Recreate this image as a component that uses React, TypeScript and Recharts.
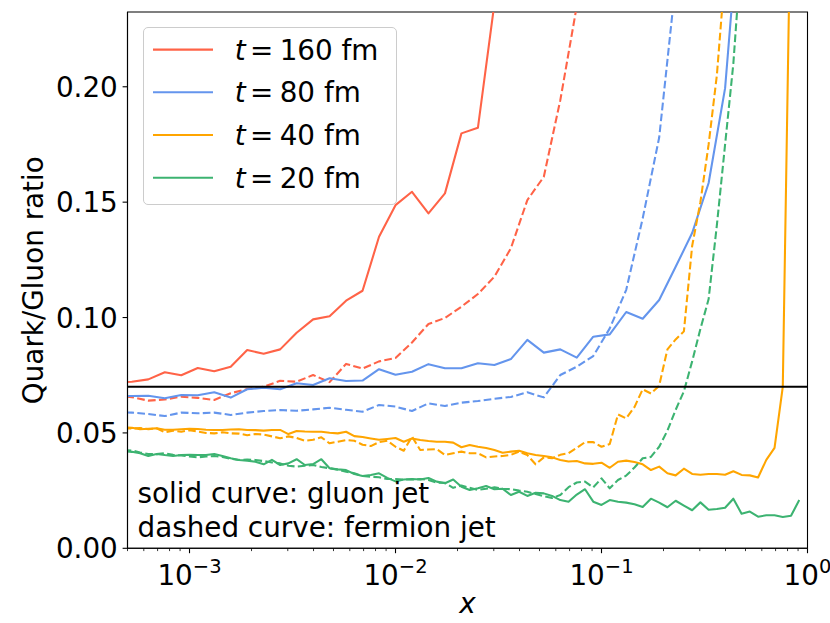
import { LineChart, Line, XAxis, YAxis, Legend, ReferenceLine, ReferenceArea, Label } from 'recharts';

// log10(x) of the bins. The t = 160 and 80 fm runs are on every other bin.
const coarseExp = [
  -3.36, -3.28, -3.2, -3.12, -3.04, -2.96, -2.88, -2.8, -2.72, -2.64,
  -2.56, -2.48, -2.4, -2.32, -2.24, -2.16, -2.08, -2.0, -1.92, -1.84,
  -1.76, -1.68, -1.6, -1.52, -1.44, -1.36, -1.28, -1.2, -1.12, -1.04,
  -0.96, -0.88, -0.8, -0.72, -0.64, -0.56, -0.48, -0.4, -0.32,
];
const fineExp = [
  -3.32, -3.28, -3.24, -3.2, -3.16, -3.12, -3.08, -3.04, -3.0, -2.96,
  -2.92, -2.88, -2.84, -2.8, -2.76, -2.72, -2.68, -2.64, -2.6, -2.56,
  -2.52, -2.48, -2.44, -2.4, -2.36, -2.32, -2.28, -2.24, -2.2, -2.16,
  -2.12, -2.08, -2.04, -2.0, -1.96, -1.92, -1.88, -1.84, -1.8, -1.76,
  -1.72, -1.68, -1.64, -1.6, -1.56, -1.52, -1.48, -1.44, -1.4, -1.36,
  -1.32, -1.28, -1.24, -1.2, -1.16, -1.12, -1.08, -1.04, -1.0, -0.96,
  -0.92, -0.88, -0.84, -0.8, -0.76, -0.72, -0.68, -0.64, -0.6, -0.56,
  -0.52, -0.48, -0.44, -0.4, -0.36, -0.32, -0.28, -0.24, -0.2, -0.16,
  -0.12, -0.08, -0.04,
];

// solid = gluon jet, dashed = fermion jet
const t160Gluon = [
  0.0718, 0.0722, 0.0732, 0.0763, 0.075, 0.0781, 0.0767, 0.0787, 0.0859, 0.0843,
  0.0862, 0.0934, 0.0992, 0.1006, 0.1073, 0.1116, 0.135, 0.1487, 0.1545, 0.1451,
  0.1538, 0.1798, 0.1822, 0.236, 0.3,
];
const t160Fermion = [
  0.066, 0.0655, 0.064, 0.0645, 0.0657, 0.0652, 0.0643, 0.0672, 0.069, 0.07,
  0.0726, 0.0722, 0.0751, 0.072, 0.0799, 0.0779, 0.081, 0.0825, 0.0892, 0.0972,
  0.0998, 0.1047, 0.1102, 0.1177, 0.13, 0.1509, 0.161, 0.1942, 0.235, 0.3,
];
const t80Gluon = [
  0.066, 0.066, 0.0661, 0.065, 0.0664, 0.0663, 0.0676, 0.0653, 0.0689, 0.0696,
  0.0689, 0.0715, 0.0708, 0.0737, 0.0725, 0.0727, 0.0776, 0.0752, 0.0765, 0.0798,
  0.078, 0.078, 0.0802, 0.0794, 0.082, 0.0903, 0.0848, 0.0862, 0.0826, 0.0917,
  0.0927, 0.1024, 0.0995, 0.1076, 0.122, 0.1366, 0.1583, 0.1994, 0.287,
];
const t80Fermion = [
  0.059, 0.0588, 0.0582, 0.0573, 0.0588, 0.0585, 0.0588, 0.0578, 0.0588, 0.0595,
  0.0599, 0.0596, 0.0602, 0.0609, 0.06, 0.0592, 0.0621, 0.0614, 0.0595, 0.0628,
  0.0617, 0.0631, 0.0638, 0.0648, 0.0656, 0.0676, 0.0654, 0.0751, 0.0787, 0.0833,
  0.0953, 0.112, 0.143, 0.178, 0.245, 0.3,
];
const t40Gluon = [
  0.0525, 0.0522, 0.0516, 0.0518, 0.052, 0.0514, 0.0514, 0.0516, 0.0518, 0.0517,
  0.0514, 0.0513, 0.0513, 0.0515, 0.0516, 0.0513, 0.0512, 0.051, 0.0513, 0.0513,
  0.0495, 0.0508, 0.0506, 0.0505, 0.0505, 0.0501, 0.0498, 0.0505, 0.0486, 0.0482,
  0.0476, 0.047, 0.0474, 0.0478, 0.0462, 0.0476, 0.0469, 0.0465, 0.0462, 0.0462,
  0.0458, 0.0438, 0.0448, 0.044, 0.0435, 0.0426, 0.0414, 0.0419, 0.0423, 0.0412,
  0.0404, 0.04, 0.0394, 0.0383, 0.0376, 0.0378, 0.0368, 0.0366, 0.0371, 0.0349,
  0.0375, 0.038, 0.0374, 0.0364, 0.0339, 0.0354, 0.0325, 0.0316, 0.0345, 0.0322,
  0.0319, 0.0322, 0.0322, 0.0319, 0.0334, 0.0318, 0.0316, 0.0307, 0.0383, 0.0435,
  0.07, 0.29,
];
const t40Fermion = [
  0.052, 0.0519, 0.0521, 0.0516, 0.052, 0.0503, 0.051, 0.0505, 0.0512, 0.0506,
  0.05, 0.0498, 0.0503, 0.0498, 0.0497, 0.049, 0.0495, 0.0493, 0.0485, 0.0477,
  0.0485, 0.0478, 0.0466, 0.047, 0.0481, 0.0455, 0.0462, 0.0469, 0.0466, 0.0449,
  0.0443, 0.046, 0.0466, 0.044, 0.0423, 0.0484, 0.0426, 0.0428, 0.043, 0.0404,
  0.0412, 0.0419, 0.0412, 0.0412, 0.0394, 0.0398, 0.04, 0.0405, 0.0419, 0.0404,
  0.0364, 0.0394, 0.039, 0.0405, 0.0412, 0.0435, 0.046, 0.046, 0.044, 0.0452,
  0.058, 0.0563, 0.0612, 0.0689, 0.0671, 0.0705, 0.0862, 0.0905, 0.094, 0.131,
  0.15, 0.175, 0.205, 0.25,
];
const t20Gluon = [
  0.042, 0.0418, 0.0412, 0.04, 0.0409, 0.0404, 0.04, 0.0404, 0.0405, 0.0404,
  0.0404, 0.0409, 0.04, 0.039, 0.0383, 0.038, 0.0375, 0.0364, 0.0383, 0.0361,
  0.0368, 0.0386, 0.0361, 0.0365, 0.0386, 0.0347, 0.0342, 0.0339, 0.0322, 0.0313,
  0.0318, 0.0325, 0.0305, 0.029, 0.0298, 0.03, 0.0298, 0.0305, 0.0289, 0.0282,
  0.0298, 0.0267, 0.0253, 0.026, 0.027, 0.0256, 0.0258, 0.0231, 0.0245, 0.0227,
  0.0241, 0.0238, 0.0227, 0.0209, 0.0202, 0.0233, 0.0256, 0.0202, 0.0188, 0.0209,
  0.0202, 0.0198, 0.0191, 0.0179, 0.0215, 0.0198, 0.0178, 0.0206, 0.0185, 0.0165,
  0.0199, 0.0167, 0.017, 0.0176, 0.0215, 0.015, 0.0159, 0.0137, 0.0143, 0.0143,
  0.0136, 0.0141, 0.0209,
];
const t20Fermion = [
  0.0426, 0.0424, 0.0415, 0.0409, 0.0408, 0.0412, 0.0405, 0.0402, 0.0398, 0.0394,
  0.0398, 0.04, 0.0396, 0.0388, 0.0383, 0.0385, 0.0383, 0.0378, 0.0372, 0.0368,
  0.0358, 0.0354, 0.0358, 0.0361, 0.0352, 0.0347, 0.034, 0.0332, 0.0325, 0.0313,
  0.031, 0.0308, 0.03, 0.03, 0.0298, 0.0298, 0.03, 0.0296, 0.0285, 0.0284,
  0.0262, 0.0272, 0.0262, 0.0253, 0.0258, 0.0264, 0.0258, 0.0256, 0.025, 0.0245,
  0.0235, 0.0226, 0.0218, 0.0231, 0.0265, 0.0285, 0.0289, 0.0264, 0.0303, 0.026,
  0.0296, 0.0315, 0.035, 0.039, 0.0396, 0.044, 0.051, 0.06, 0.068, 0.081,
  0.095, 0.108, 0.14, 0.175, 0.21, 0.26,
];

const legendTimes = ['160', '80', '40', '20'];
const colors = ['#ff6347', '#6495ed', '#ffa500', '#3cb371'];

const yTicks = [0, 0.05, 0.1, 0.15, 0.2];
const yTickLabels = ['0.00', '0.05', '0.10', '0.15', '0.20'];
const xMajorTicks = [1e-3, 1e-2, 1e-1, 1];
const xMajorExponents = ['\u22123', '\u22122', '\u22121', '0'];
const xMinorTicks = [
  5e-4, 6e-4, 7e-4, 8e-4, 9e-4,
  2e-3, 3e-3, 4e-3, 5e-3, 6e-3, 7e-3, 8e-3, 9e-3,
  2e-2, 3e-2, 4e-2, 5e-2, 6e-2, 7e-2, 8e-2, 9e-2,
  2e-1, 3e-1, 4e-1, 5e-1, 6e-1, 7e-1, 8e-1, 9e-1,
];

const FONT = 'DejaVu Sans';
const FS = 27.8;

const toPoints = (exp: number[], vals: number[]) => vals.map((y, i) => ({ x: 10 ** exp[i], y }));

const series = [
  { id: 'g160', data: toPoints(coarseExp, t160Gluon), color: colors[0], dashed: false },
  { id: 'f160', data: toPoints(coarseExp, t160Fermion), color: colors[0], dashed: true },
  { id: 'g80', data: toPoints(coarseExp, t80Gluon), color: colors[1], dashed: false },
  { id: 'f80', data: toPoints(coarseExp, t80Fermion), color: colors[1], dashed: true },
  { id: 'g40', data: toPoints(fineExp, t40Gluon), color: colors[2], dashed: false },
  { id: 'f40', data: toPoints(fineExp, t40Fermion), color: colors[2], dashed: true },
  { id: 'g20', data: toPoints(fineExp, t20Gluon), color: colors[3], dashed: false },
  { id: 'f20', data: toPoints(fineExp, t20Fermion), color: colors[3], dashed: true },
];

function XTick({ x, y, payload }: any) {
  const i = xMajorTicks.indexOf(payload.value);
  if (i < 0) {
    return <line x1={x} x2={x} y1={y} y2={y + 2.8} stroke="#000" strokeWidth={0.8} />;
  }
  return (
    <g>
      <line x1={x} x2={x} y1={y} y2={y + 4.9} stroke="#000" strokeWidth={1.1} />
      <text x={x} y={y + 36.7} textAnchor="middle" fontFamily={FONT} fontSize={FS} fill="#000">
        <tspan>10</tspan>
        <tspan dy={-12.5} fontSize={19.5}>{xMajorExponents[i]}</tspan>
      </text>
    </g>
  );
}

function YTick({ x, y, index }: any) {
  return (
    <g>
      <line x1={x} x2={x - 4.9} y1={y} y2={y} stroke="#000" strokeWidth={1.1} />
      <text x={x - 9.7} y={y + 10} textAnchor="end" fontFamily={FONT} fontSize={FS} fill="#000">
        {yTickLabels[index]}
      </text>
    </g>
  );
}

function LegendBox() {
  return (
    <div
      style={{
        position: 'relative',
        width: 253.4,
        height: 178.3,
        boxSizing: 'border-box',
        border: '1px solid #cccccc',
        borderRadius: 5,
        background: 'rgba(255,255,255,0.8)',
      }}
    >
      <svg width={253.4} height={178.3} style={{ position: 'absolute', left: -1, top: -1, overflow: 'visible' }}>
        {legendTimes.map((t, i) => {
          const cy = 22.6 + 42.7 * i;
          return (
            <g key={t}>
              <line x1={10} x2={70} y1={cy} y2={cy} stroke={colors[i]} strokeWidth={2.08} />
              <text y={cy + 10} fontFamily={FONT} fontSize={FS} fill="#000">
                <tspan x={91.7} fontStyle="italic">t</tspan>
                <tspan x={106.9}>=</tspan>
                <tspan x={136.7}>{t} fm</tspan>
              </text>
            </g>
          );
        })}
      </svg>
    </div>
  );
}

export default function App() {
  return (
    <div style={{ position: 'absolute', left: 0, top: 0, width: 830, height: 623, background: '#fff', fontFamily: FONT }}>
      <LineChart width={830} height={623} margin={{ top: 12, right: 22.5, bottom: 34.7, left: 67.5 }}>
        <XAxis
          dataKey="x"
          type="number"
          scale="log"
          domain={[5e-4, 1]}
          allowDataOverflow
          ticks={[...xMinorTicks, ...xMajorTicks]}
          interval={0}
          tickSize={0}
          tickMargin={0}
          tickLine={false}
          tick={<XTick />}
          height={40}
          axisLine={{ stroke: '#000', strokeWidth: 1.1 }}
        >
          <Label
            content={() => (
              <text x={467.5} y={613} textAnchor="middle" fontFamily={FONT} fontStyle="italic" fontSize={FS} fill="#000">
                x
              </text>
            )}
          />
        </XAxis>
        <YAxis
          type="number"
          domain={[0, 0.2324]}
          allowDataOverflow
          ticks={yTicks}
          interval={0}
          tickSize={0}
          tickMargin={0}
          tickLine={false}
          tick={<YTick />}
          width={60}
          axisLine={{ stroke: '#000', strokeWidth: 1.1 }}
        >
          <Label
            content={() => (
              <text
                x={43.3}
                y={280.2}
                transform="rotate(-90, 43.3, 280.2)"
                textAnchor="middle"
                fontFamily={FONT}
                fontSize={FS}
                fill="#000"
              >
                Quark/Gluon ratio
              </text>
            )}
          />
          <Label
            content={() => (
              <text fontFamily={FONT} fontSize={FS} fill="#000">
                <tspan x={137.5} y={503.3}>solid curve: gluon jet</tspan>
                <tspan x={137.5} y={536.7}>dashed curve: fermion jet</tspan>
              </text>
            )}
          />
        </YAxis>

        {series.map((s) => (
          <Line
            key={s.id}
            data={s.data}
            dataKey="y"
            type="linear"
            stroke={s.color}
            strokeWidth={2.08}
            strokeDasharray={s.dashed ? '7.7 3.3' : undefined}
            strokeLinejoin="round"
            dot={false}
            activeDot={false}
            legendType="none"
            isAnimationActive={false}
          />
        ))}

        <ReferenceLine y={0.07} stroke="#000" strokeWidth={2} />
        <ReferenceArea x1={5e-4} x2={1} y1={0} y2={0.2324} fill="none" stroke="#000" strokeWidth={1.1} />

        <Legend
          layout="vertical"
          align="center"
          verticalAlign="middle"
          wrapperStyle={{ left: 143.3, top: 26.7, width: 253.4, height: 178.3 }}
          content={() => <LegendBox />}
        />
      </LineChart>
    </div>
  );
}
